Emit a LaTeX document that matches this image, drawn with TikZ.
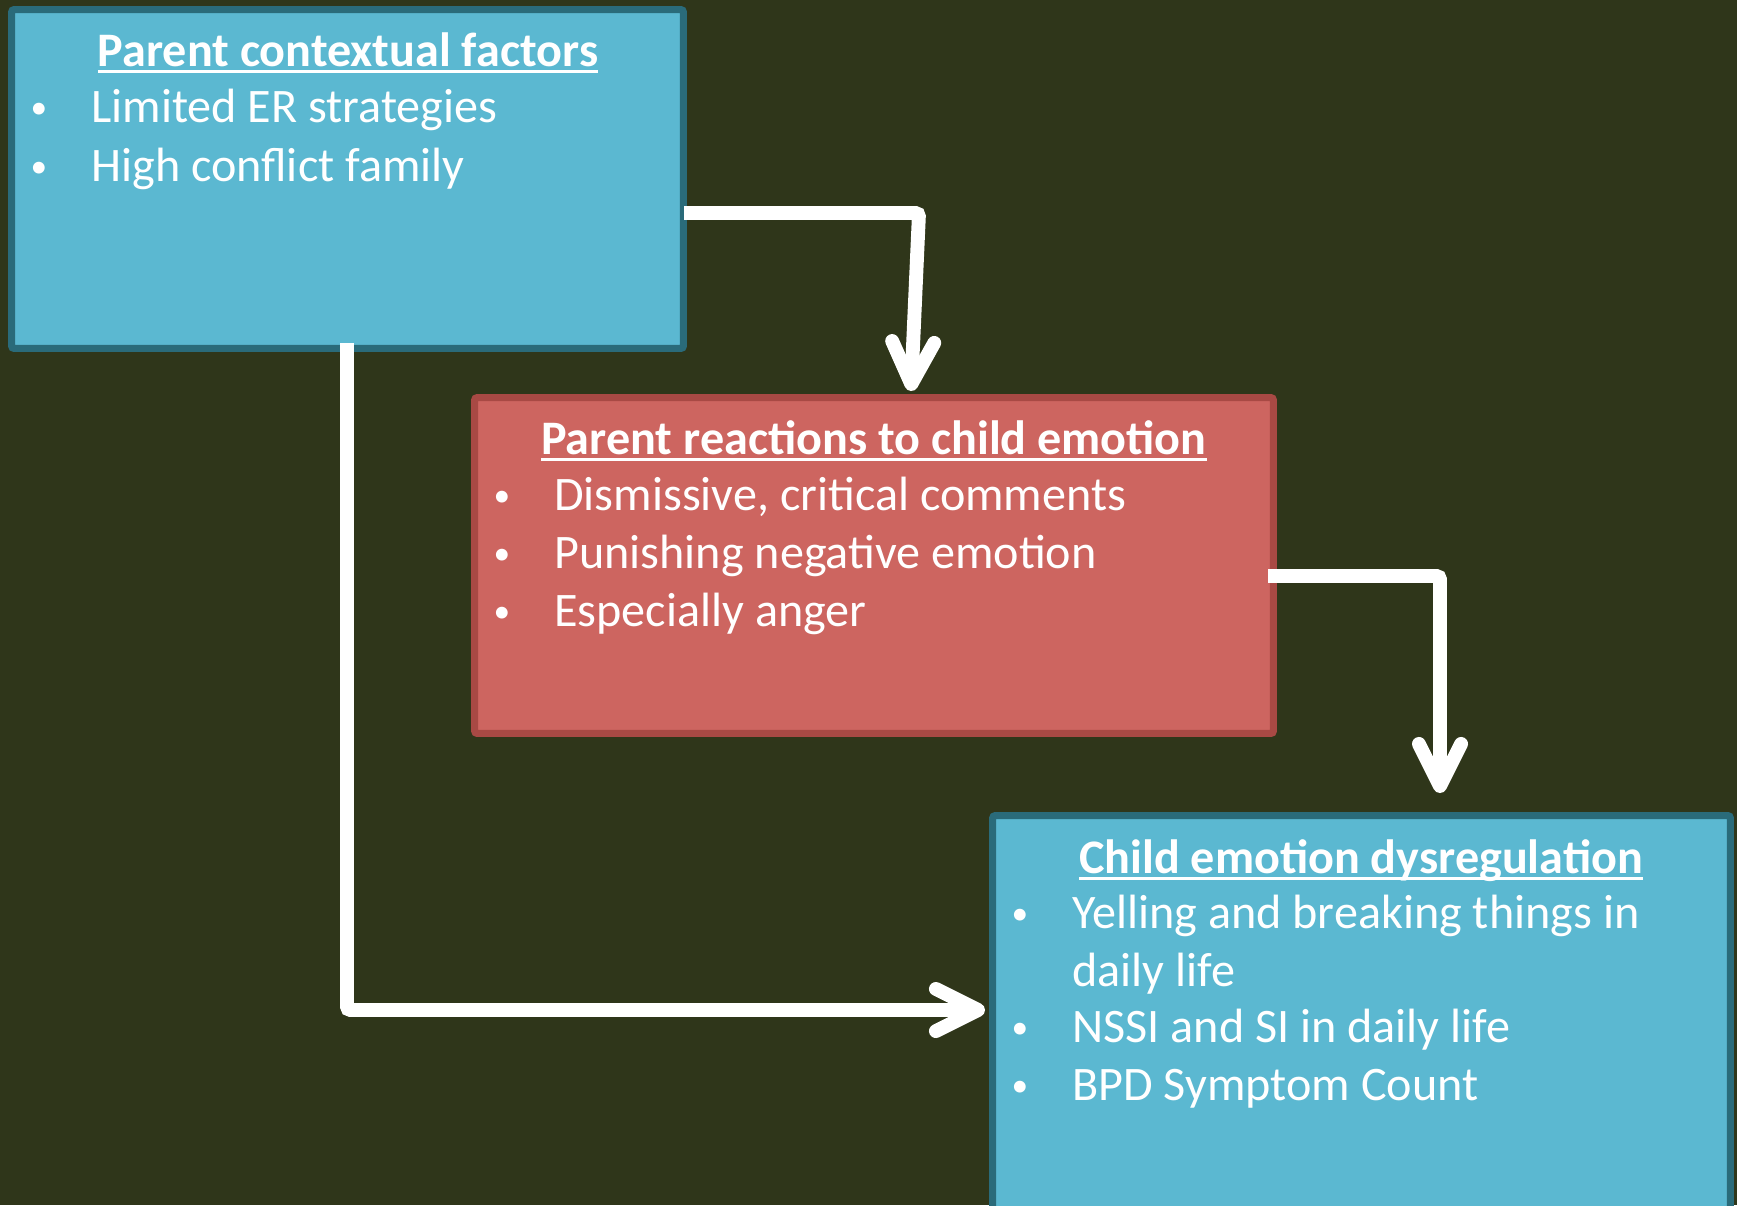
\documentclass[tikz,border=0pt]{standalone}
\usepackage{fontspec}
\setmainfont{Carlito}
\usepackage{tikz}
\usetikzlibrary{arrows.meta}
\definecolor{board}{RGB}{47,54,26}
\definecolor{lblue}{RGB}{91,184,209}
\definecolor{dblue}{RGB}{42,107,122}
\definecolor{lred}{RGB}{205,101,96}
\definecolor{dred}{RGB}{168,73,68}
\newsavebox{\headbox}
\newcommand{\ulbar}[1]{\sbox{\headbox}{#1}\rlap{\vrule height -2.3pt depth 4pt width \wd\headbox}\usebox{\headbox}}
\tikzstyle{none}=[inner sep=0pt]
\tikzstyle{bluebox}=[rectangle,fill=lblue,draw=dblue,line width=4pt,rounded corners=1.5pt,inner sep=0pt]
\tikzstyle{redbox}=[rectangle,fill=lred,draw=dred,line width=4pt,rounded corners=1.5pt,inner sep=0pt]
\tikzstyle{heading}=[inner sep=0pt,anchor=base,text=white,font=\fontsize{27.4}{33}\selectfont\bfseries]
\tikzstyle{item}=[inner sep=0pt,anchor=base west,text=white,font=\fontsize{27.4}{33}\selectfont]
\tikzstyle{bullet}=[inner sep=0pt,anchor=base,text=white,font=\fontsize{19}{23}\selectfont,yshift=2.2pt]
\tikzstyle{flow}=[-{Straight Barb[length=24pt,width=24pt,line cap=round,line join=round]},draw=white,line width=7.9pt,rounded corners=2pt]

\begin{document}
\begin{tikzpicture}[x=0.02cm,y=-0.02cm]
	\fill [board] (0,0) rectangle (1737,1205);
	\useasboundingbox (0,0) rectangle (1737,1205);
	\clip (0,0) rectangle (1737,1205);
	% boxes
	\node [style=bluebox, minimum width=13.44cm, minimum height=6.78cm] (ctx) at (347.5,179) {};
	\node [style=redbox, minimum width=15.98cm, minimum height=6.72cm] (react) at (874,565.5) {};
	\node [style=bluebox, minimum width=14.76cm, minimum height=8.22cm] (child) at (1361.5,1021) {};
	% texts
	\node [style=heading] (ctxhead) at (348,66) {\ulbar{Parent contextual factors}};
	\node [style=bullet] (b1) at (39,122) {•};
	\node [style=item] (t1) at (91,122) {Limited ER strategies};
	\node [style=bullet] (b2) at (39,181) {•};
	\node [style=item] (t2) at (91,181) {High conflict family};
	\node [style=heading] (reacthead) at (874,454) {\ulbar{Parent reactions to child emotion}};
	\node [style=bullet] (b3) at (502,510) {•};
	\node [style=item] (t3) at (554,510) {Dismissive, critical comments};
	\node [style=bullet] (b4) at (502,568) {•};
	\node [style=item] (t4) at (554,568) {Punishing negative emotion};
	\node [style=bullet] (b5) at (502,626) {•};
	\node [style=item] (t5) at (554,626) {Especially anger};
	\node [style=heading] (childhead) at (1361,873) {\ulbar{Child emotion dysregulation}};
	\node [style=bullet] (b6) at (1020,928) {•};
	\node [style=item] (t6) at (1072,928) {Yelling and breaking things in};
	\node [style=item] (t7) at (1072,986) {daily life};
	\node [style=bullet] (b8) at (1020,1042) {•};
	\node [style=item] (t8) at (1072,1042) {NSSI and SI in daily life};
	\node [style=bullet] (b9) at (1020,1100) {•};
	\node [style=item] (t9) at (1072,1100) {BPD Symptom Count};
	% connector points
	\node [style=none] (1) at (684,213) {};
	\node [style=none] (2) at (919,213) {};
	\node [style=none] (3) at (911,391) {};
	\node [style=none] (4) at (1268,576) {};
	\node [style=none] (5) at (1440,576) {};
	\node [style=none] (6) at (1440,793) {};
	\node [style=none] (7) at (347,343) {};
	\node [style=none] (8) at (347,1010) {};
	\node [style=none] (9) at (985,1010) {};
	% arrows
	\draw [style=flow] (1.center) to (2.center) to (3.center);
	\draw [style=flow] (4.center) to (5.center) to (6.center);
	\draw [style=flow] (7.center) to (8.center) to (9.center);
\end{tikzpicture}
\end{document}
